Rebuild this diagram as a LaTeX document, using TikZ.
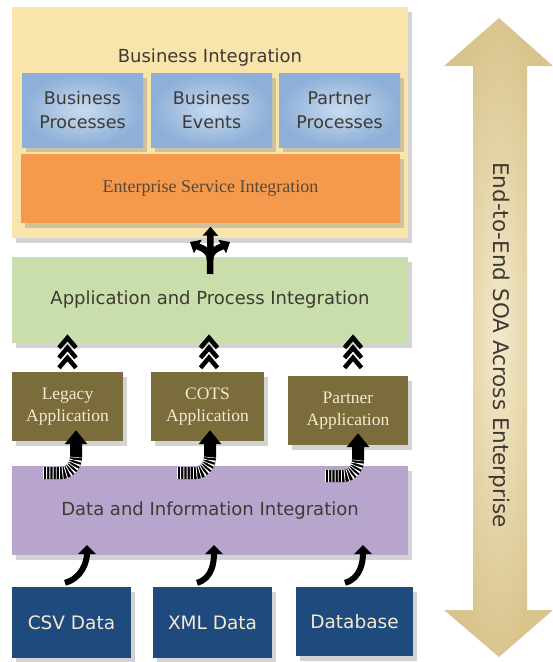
\documentclass[tikz,border=0pt]{standalone}
\usepackage{fontspec}
\setmainfont{Liberation Serif}
\newfontfamily\soasans{DejaVu Sans}
\usetikzlibrary{arrows.meta,calc,shadows}

\definecolor{bizyellow}{HTML}{F9E5AC}
\definecolor{procout}{HTML}{8DAFD8}
\definecolor{procin}{HTML}{C9DBEF}
\definecolor{esiorange}{HTML}{F5994C}
\definecolor{apigreen}{HTML}{C9DEAA}
\definecolor{appolive}{HTML}{7B6C3B}
\definecolor{diililac}{HTML}{B8A5CE}
\definecolor{datanavy}{HTML}{1F4A7E}
\definecolor{soagold}{HTML}{D9C48D}
\definecolor{soagoldin}{HTML}{F3E9CB}
\definecolor{darkink}{HTML}{3F3A33}
\definecolor{paleink}{HTML}{F3EAD2}

\tikzset{
  shade box/.style={drop shadow={shadow xshift=4pt,shadow yshift=-5pt,opacity=0.35}},
  layer/.style={shade box, inner sep=0pt, minimum width=396pt, text=darkink,
    font=\soasans\fontsize{18}{21}\selectfont},
  procbox/.style={shade box, inner sep=0pt, minimum width=121pt, minimum height=74pt,
    inner color=procin, outer color=procout, align=center, text=darkink,
    font=\soasans\fontsize{17.5}{24}\selectfont},
  appbox/.style={shade box, inner sep=0pt, minimum width=111pt, minimum height=69pt,
    fill=appolive, align=center, text=paleink, font=\fontsize{17.5}{22}\selectfont},
  databox/.style={shade box, inner sep=0pt, minimum width=119pt, minimum height=71pt,
    fill=datanavy, text=paleink, font=\soasans\fontsize{18.5}{22}\selectfont},
  forkarrow/.style={line width=6.5pt, -{Triangle[width=15pt,length=9pt]}},
  chevron/.style={line width=4.5pt, miter limit=10},
  ribbed/.style={line width=12pt, -{Triangle[width=22pt,length=14pt]}},
  ribstripe/.style={white, line width=12pt, dash pattern=on 0.9pt off 2.3pt},
  feedarrow/.style={line width=6pt, -{Triangle[width=17pt,length=9pt]}},
}

\begin{document}
\begin{tikzpicture}[x=1pt,y=-1pt]
  %%%%% START %%%%%
  \useasboundingbox (0,0) rectangle (553,662);

  % end-to-end arrow
  \shade[inner color=soagoldin, outer color=soagold]
    (499,18) -- (553,66) -- (527,66) -- (527,610) -- (553,610) -- (499,657)
    -- (444,610) -- (473,610) -- (473,66) -- (444,66) -- cycle;
  \node[rotate=-90, text=darkink, font=\soasans\fontsize{21.5}{24}\selectfont]
    (soa) at (499,345) {End-to-End SOA Across Enterprise};

  % business integration
  \node[layer, fill=bizyellow, minimum height=231pt] (biz) at (210,122.5) {};
  \node[text=darkink, font=\soasans\fontsize{18}{21}\selectfont] (bizlbl) at (210,58) {Business Integration};
  \node[procbox] (bproc) at (82.5,110) {Business\\Processes};
  \node[procbox] (bevt) at (211.5,110) {Business\\Events};
  \node[procbox] (pproc) at (339.5,110) {Partner\\Processes};
  \node[shade box, fill=esiorange, inner sep=0pt, minimum width=379pt, minimum height=69pt,
    text=darkink!80!brown, font=\fontsize{18}{21}\selectfont]
    (esi) at (210.5,188) {Enterprise Service Integration};

  % application and process integration
  \node[layer, fill=apigreen, minimum height=86pt] (api) at (210,300) {Application and Process Integration};

  \coordinate (forkbase) at (210,274);
  \coordinate (forksplit) at (210,260);
  \coordinate (forkleft) at (190,242);
  \coordinate (forkright) at (230,242);
  \draw[forkarrow] (forkbase) -- ([yshift=-4pt]esi.south);
  \draw[forkarrow] (forksplit) to[out=90,in=-30] (forkleft);
  \draw[forkarrow] (forksplit) to[out=90,in=-150] (forkright);

  % applications
  \node[appbox] (legacy) at (67.5,406.5) {Legacy\\Application};
  \node[appbox, minimum width=113pt] (cots) at (207.5,406.5) {COTS\\Application};
  \node[appbox, minimum width=120pt] (partner) at (348,410.5) {Partner\\Application};

  \foreach \b/\dx/\dy in {legacy/0/-34, cots/1.5/-34, partner/5/-38}
    \foreach \k in {0,1,2}
      \draw[chevron] ($(\b.north)+(\dx-8.5,\dy+10+10*\k)$) -- ($(\b.north)+(\dx,\dy+10*\k)$)
        -- ($(\b.north)+(\dx+8.5,\dy+10+10*\k)$);

  % data and information integration
  \node[layer, fill=diililac, minimum height=89pt] (dii) at (210,510.5) {Data and Information Integration};

  \foreach \b/\dx/\dy in {legacy/8.5/-11, cots/2.5/-11, partner/10/-12} {
    \coordinate (\b tip) at ($(\b.south)+(\dx,\dy)$);
    \coordinate (\b rise) at ($(\b tip)+(0,27)$);
    \coordinate (\b bend) at ($(\b tip)+(-16,43)$);
    \coordinate (\b tail) at ($(\b tip)+(-33,43)$);
    \draw[ribbed] (\b tail) -- (\b bend) to[out=0,in=-90] (\b rise) -- (\b tip);
    \draw[ribstripe] (\b tail) -- (\b bend) to[out=0,in=-90] (\b rise);
  }

  % data sources
  \node[databox] (csv) at (71.5,622.5) {CSV Data};
  \node[databox] (xml) at (212.5,622.5) {XML Data};
  \node[databox, minimum width=117pt, minimum height=69pt] (db) at (354.5,621.5) {Database};

  \coordinate (csvin) at (87,545);
  \coordinate (xmlin) at (214,545);
  \coordinate (dbin) at (363,545);
  \draw[feedarrow] ([shift={(-6.5pt,4pt)}]csv.north) to[out=15,in=-90] (csvin);
  \draw[feedarrow] ([shift={(-15.5pt,4pt)}]xml.north) to[out=15,in=-90] (xmlin);
  \draw[feedarrow] ([shift={(-9.5pt,4pt)}]db.north) to[out=15,in=-90] (dbin);

  %%%%% END %%%%%
\end{tikzpicture}
\end{document}
